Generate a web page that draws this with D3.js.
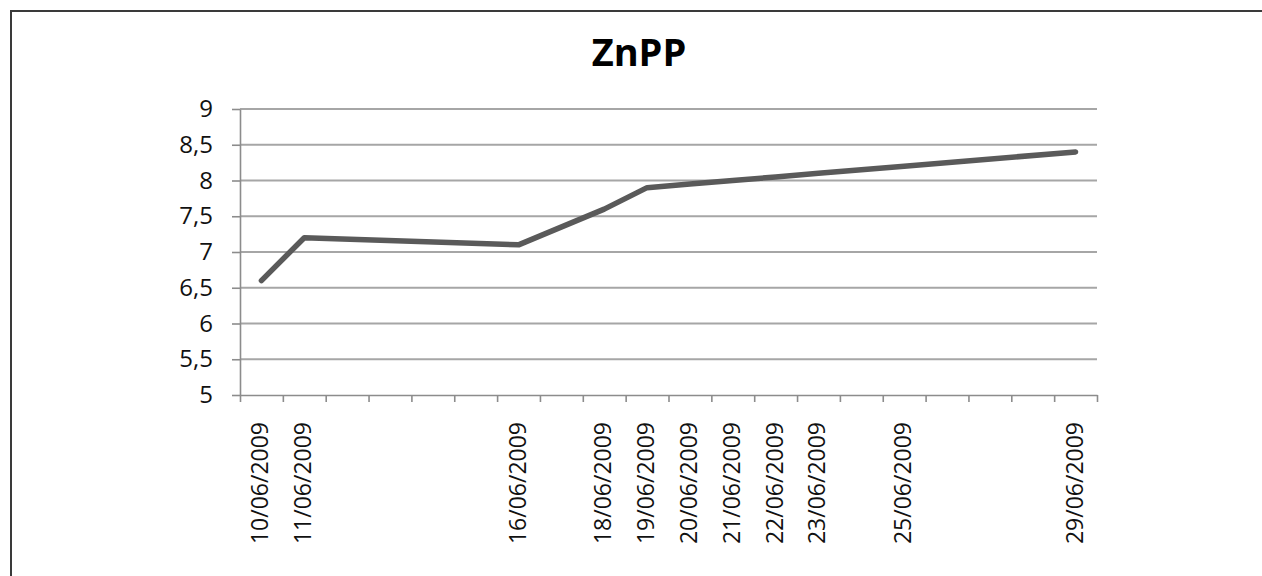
<!DOCTYPE html>
<html>
<head>
<meta charset="utf-8">
<script src="https://cdn.jsdelivr.net/npm/d3@7"></script>
<style>
  html, body { margin: 0; padding: 0; background: #fff; }
  svg { display: block; }
</style>
</head>
<body>
<script>
// ZnPP readings by date
const dates = ["10/06/2009", "11/06/2009", "16/06/2009", "18/06/2009", "19/06/2009",
               "20/06/2009", "21/06/2009", "22/06/2009", "23/06/2009", "25/06/2009", "29/06/2009"];
const values = [6.6, 7.2, 7.1, 7.6, 7.9, 7.95, 8.0, 8.05, 8.1, 8.2, 8.4];
const yTicks = [5, 5.5, 6, 6.5, 7, 7.5, 8, 8.5, 9];
const axisStart = "10/06/2009";
const axisEnd = "30/06/2009";
const title = "ZnPP";

const W = 1262, H = 576;
const parse = d3.utcParse("%d/%m/%Y");
const fmtDate = d3.utcFormat("%d/%m/%Y");
const fmtNum = d => String(d).replace(".", ",");

const svg = d3.select("body").append("svg").attr("width", W).attr("height", H);

// outer frame (only top and left edges fall inside the page)
svg.append("path")
  .attr("d", `M11,${H} V11 H${W}`)
  .attr("fill", "none").attr("stroke", "#3a3a3a").attr("stroke-width", 2);

const plotL = 240, plotR = 1097, plotT = 109, plotB = 395;

const x = d3.scaleUtc().domain([parse(axisStart), parse(axisEnd)]).range([plotL, plotR]);
const y = d3.scaleLinear().domain([5, 9]).range([plotB, plotT]);

const data = dates.map((d, i) => ({ date: parse(d), value: values[i] }));
// points sit in the middle of each day slot
const xc = d => x(d3.utcHour.offset(d, 12));

// gridlines
svg.append("g").selectAll("line").data(yTicks.filter(t => t !== 5)).join("line")
  .attr("x1", plotL).attr("x2", plotR)
  .attr("y1", d => y(d)).attr("y2", d => y(d))
  .attr("stroke", "#a6a6a6").attr("stroke-width", 1.8);

// y axis
const yAxis = svg.append("g").attr("transform", `translate(${plotL},0)`)
  .call(d3.axisLeft(y).tickValues(yTicks).tickFormat(fmtNum).tickSize(8).tickSizeOuter(0).tickPadding(19));
yAxis.select(".domain").attr("stroke", "#8c8c8c").attr("stroke-width", 1.6);
yAxis.selectAll(".tick line").attr("stroke", "#8c8c8c").attr("stroke-width", 1.6);
yAxis.selectAll(".tick text")
  .attr("font-family", "'Open Sans', sans-serif").attr("font-size", 24).attr("fill", "#111");

// x axis: a tick at every day boundary, labels only on measured dates
const dayTicks = d3.utcDay.range(parse(axisStart), d3.utcDay.offset(parse(axisEnd), 1));
const xAxis = svg.append("g").attr("transform", `translate(0,${plotB})`)
  .call(d3.axisBottom(x).tickValues(dayTicks).tickFormat("").tickSize(7).tickSizeOuter(0));
xAxis.select(".domain").attr("stroke", "#8c8c8c").attr("stroke-width", 1.6);
xAxis.selectAll(".tick line").attr("stroke", "#8c8c8c").attr("stroke-width", 1.6);

svg.append("g").selectAll("text").data(data).join("text")
  .attr("transform", d => `translate(${xc(d.date) + 7},${plotB + 27}) rotate(-90)`)
  .attr("text-anchor", "end")
  .attr("font-family", "'Open Sans', sans-serif").attr("font-size", 23).attr("fill", "#111")
  .text(d => fmtDate(d.date));

// series line
const line = d3.line().x(d => xc(d.date)).y(d => y(d.value));
svg.append("path").datum(data)
  .attr("d", line)
  .attr("fill", "none").attr("stroke", "#5a5a5a").attr("stroke-width", 5.5)
  .attr("stroke-linejoin", "round").attr("stroke-linecap", "round");

// title
svg.append("text")
  .attr("x", 639).attr("y", 66)
  .attr("text-anchor", "middle")
  .attr("font-family", "'Open Sans', sans-serif").attr("font-weight", "bold")
  .attr("font-size", 38).attr("fill", "#000")
  .text(title);
</script>
</body>
</html>
